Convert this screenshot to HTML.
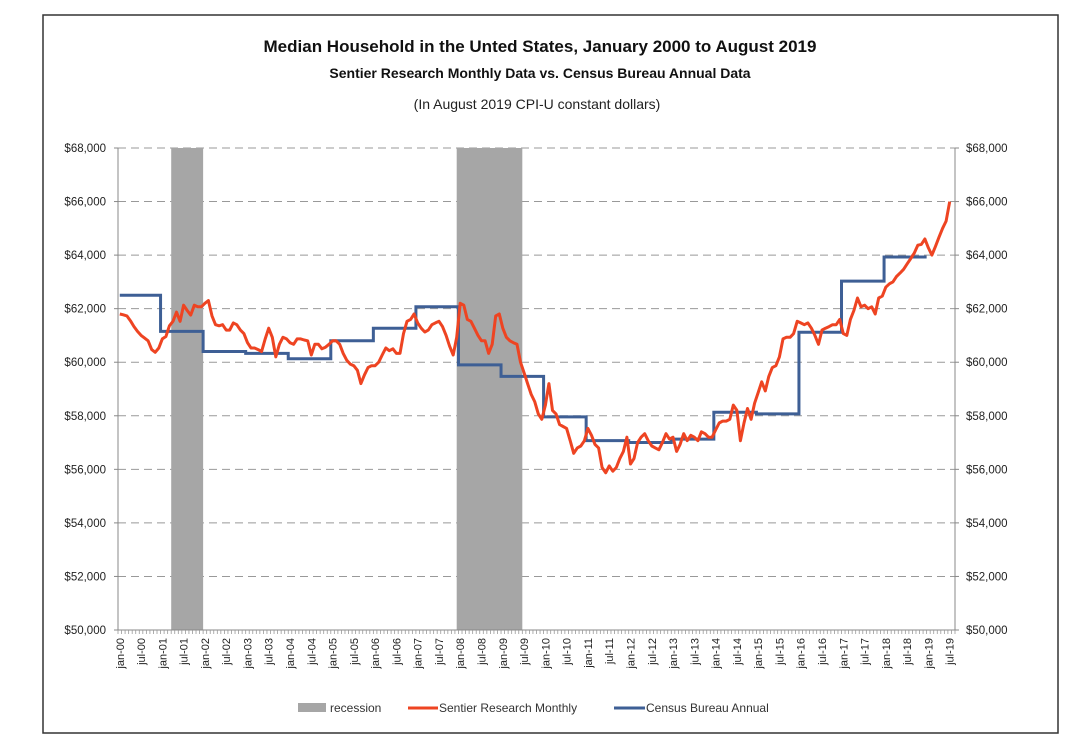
<!DOCTYPE html>
<html><head><meta charset="utf-8"><style>
body{margin:0;background:#fff;}
svg text{font-family:"Liberation Sans",sans-serif;}
</style></head><body>
<svg id="chart" width="1078" height="750" xmlns="http://www.w3.org/2000/svg">
<rect x="43" y="15" width="1015" height="718" fill="#fff" stroke="#333" stroke-width="1.5"/>
<text x="540" y="52" text-anchor="middle" font-size="17" font-weight="bold" fill="#111">Median Household in the Unted States, January 2000 to August 2019</text>
<text x="540" y="78" text-anchor="middle" font-size="14" font-weight="bold" fill="#111">Sentier Research Monthly Data vs. Census Bureau Annual Data</text>
<text x="537" y="109" text-anchor="middle" font-size="14" fill="#222">(In August 2019 CPI-U constant dollars)</text>
<g id="grid"></g><g id="rec"></g><g id="axes"></g><g id="lines"></g>
<g>
<rect x="298" y="703" width="28" height="9" fill="#a6a6a6"/>
<text x="330" y="712" font-size="12" fill="#333">recession</text>
<line x1="408" y1="708" x2="438" y2="708" stroke="#ee4422" stroke-width="3"/>
<text x="439" y="712" font-size="12" fill="#333">Sentier Research Monthly</text>
<line x1="614" y1="708" x2="645" y2="708" stroke="#3e5f95" stroke-width="3"/>
<text x="646" y="712" font-size="12" fill="#333">Census Bureau Annual</text>
</g>
</svg>
<script>
const yTicks=[50000,52000,54000,56000,58000,60000,62000,64000,66000,68000];
const years=[2000,2001,2002,2003,2004,2005,2006,2007,2008,2009,2010,2011,2012,2013,2014,2015,2016,2017,2018,2019];
const censusYears=[2000,2001,2002,2003,2004,2005,2006,2007,2008,2009,2010,2011,2012,2013,2014,2015,2016,2017,2018];
const censusValues=[62500,61150,60400,60330,60130,60800,61270,62070,59900,59470,57960,57070,57000,57130,58130,58070,61120,63030,63930];
const recessionStarts=[15,95.5];
const recessionEnds=[24,114];
const sentier=[61.8,61.77,61.73,61.55,61.33,61.15,61.0,60.9,60.8,60.47,60.37,60.53,60.87,60.96,61.36,61.53,61.87,61.53,62.13,61.93,61.76,62.13,62.07,62.07,62.2,62.3,61.73,61.4,61.36,61.4,61.2,61.2,61.47,61.4,61.2,61.07,60.73,60.53,60.53,60.47,60.4,60.87,61.27,60.93,60.2,60.67,60.93,60.87,60.73,60.67,60.87,60.87,60.83,60.8,60.27,60.67,60.67,60.5,60.56,60.67,60.8,60.8,60.67,60.33,60.07,59.93,59.87,59.7,59.2,59.53,59.8,59.87,59.87,60.0,60.27,60.53,60.43,60.5,60.33,60.33,61.07,61.53,61.6,61.8,61.47,61.27,61.13,61.2,61.4,61.47,61.53,61.33,61.0,60.6,60.27,60.93,62.2,62.13,61.6,61.53,61.27,61.0,60.8,60.8,60.33,60.67,61.73,61.8,61.27,60.93,60.8,60.73,60.67,60.0,59.6,59.2,58.8,58.53,58.07,57.87,58.4,59.2,58.2,58.07,57.67,57.6,57.53,57.07,56.6,56.8,56.87,57.07,57.53,57.27,56.93,56.8,56.07,55.87,56.13,55.93,56.07,56.4,56.67,57.2,56.2,56.4,57.0,57.2,57.33,57.07,56.87,56.8,56.73,57.0,57.33,57.13,57.2,56.67,56.93,57.33,57.07,57.27,57.2,57.07,57.4,57.33,57.2,57.2,57.47,57.73,57.8,57.8,57.87,58.4,58.2,57.07,57.73,58.27,57.87,58.47,58.87,59.27,58.93,59.47,59.8,59.87,60.2,60.87,60.93,60.93,61.07,61.53,61.47,61.4,61.47,61.27,61.0,60.67,61.2,61.27,61.33,61.4,61.4,61.6,61.07,61.0,61.6,61.93,62.4,62.07,62.13,62.0,62.07,61.8,62.4,62.47,62.8,62.93,63.0,63.2,63.33,63.47,63.67,63.87,64.07,64.37,64.4,64.6,64.27,64.0,64.33,64.67,65.0,65.27,66.0];
const NS='http://www.w3.org/2000/svg';
const L=118,R=955,T=148,B=630,NM=236;
const bw=(R-L)/NM;
const xs=i=>L+bw*(i+0.5);
const xe=i=>L+bw*i;
const ys=v=>B-(v-50000)/18000*(B-T);
function mk(tag,attrs,parent){const e=document.createElementNS(NS,tag);for(const k in attrs)e.setAttribute(k,attrs[k]);document.getElementById(parent).appendChild(e);return e;}
yTicks.forEach(v=>{
 const y=ys(v);
 if(v>50000){const g=mk('line',{x1:L,x2:R,y1:y,y2:y,stroke:'#999','stroke-width':1,'stroke-dasharray':'8,5'},'grid');
 
 }
 const lab='$'+v.toLocaleString('en-US');
 const t1=mk('text',{x:106,y:y+4,'text-anchor':'end','font-size':11.5,fill:'#222'},'axes');t1.textContent=lab;
 
 
 const t2=mk('text',{x:966,y:y+4,'font-size':11.5,fill:'#222'},'axes');t2.textContent=lab;
 
 
 const tk=mk('line',{x1:L-4,x2:L,y1:y,y2:y,stroke:'#888'},'axes');
 
 
 const tk2=mk('line',{x1:R,x2:R+4,y1:y,y2:y,stroke:'#888'},'axes');
 
 
});
recessionStarts.forEach((s,k)=>{
 const r=mk('rect',{x:xe(s),y:T,width:xe(recessionEnds[k])-xe(s),height:B-T,fill:'#a6a6a6'},'rec');
 
 
});
[[L,T,L,B],[R,T,R,B],[L,B,R,B]].forEach(a=>{const l=mk('line',{x1:a[0],y1:a[1],x2:a[2],y2:a[3],stroke:'#888'},'axes');
 
 });
for(let i=0;i<=NM;i++){const l=mk('line',{x1:xe(i),x2:xe(i),y1:B,y2:B+4,stroke:'#999','stroke-width':0.8},'axes');
 
 }
years.forEach((yr,k)=>{
 ['jan','jul'].forEach((m,j)=>{
  const i=k*12+j*6; if(i>=NM) return;
  const x=xs(i)+4;
  const t=mk('text',{x:x,y:638,'font-size':11,fill:'#222','text-anchor':'end',transform:`rotate(-90 ${x} 638)`},'axes');
  t.textContent=m+'-'+String(yr%100).padStart(2,'0');
  
  
 });
});
let d='';
censusYears.forEach((yr,k)=>{const i0=(yr-2000)*12-0.5,i1=i0+12;const y=ys(censusValues[k]);
 d+=(k===0?'M'+xs(0):'L'+xs(i0))+','+y+' L'+xs(i1)+','+y+' ';});
const c=mk('path',{d:d,fill:'none',stroke:'#3e5f95','stroke-width':3},'lines');


const sp=mk('path',{d:sentier.map((v,i)=>(i?'L':'M')+xs(i).toFixed(1)+','+ys(v*1000).toFixed(1)).join(' '),fill:'none',stroke:'#ee4422','stroke-width':3,'stroke-linejoin':'round'},'lines');


</script>
</body></html>
